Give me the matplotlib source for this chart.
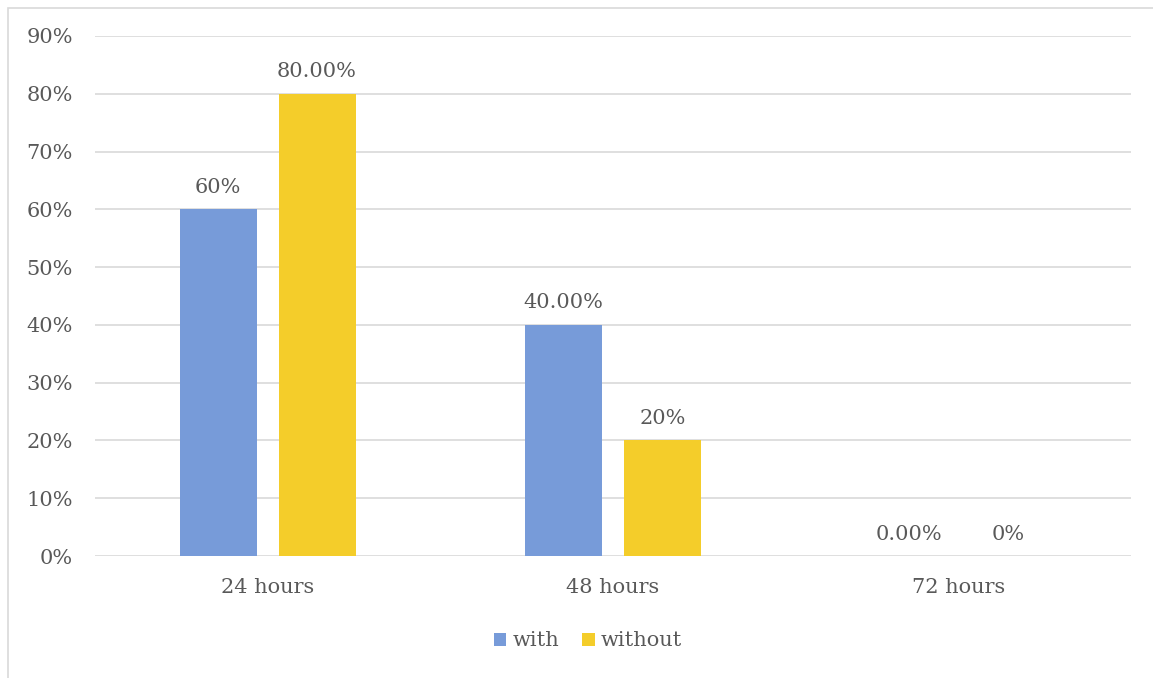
import matplotlib.pyplot as plt
import numpy as np
from matplotlib.patches import Rectangle

categories = ['24 hours', '48 hours', '72 hours']
with_vals = [0.60, 0.40, 0.0]
without_vals = [0.80, 0.20, 0.0]
with_labels = ['60%', '40.00%', '0.00%']
without_labels = ['80.00%', '20%', '0%']
yticks = np.arange(0, 0.91, 0.1)

plt.rcParams['font.family'] = ['DejaVu Serif']
txt = '#595959'
fs = 15

fig = plt.figure(figsize=(11.53, 6.78), dpi=100)
fig.patches.append(Rectangle((8/1153, -0.01), 1.02, (678-8)/678 + 0.01,
                             transform=fig.transFigure, fill=False,
                             edgecolor='#d9d9d9', linewidth=1.2))
ax = fig.add_axes([95/1153, (678-556)/678, (1131-95)/1153, (556-36)/678])

x = np.arange(len(categories))
w = 0.223
off = 0.143
b1 = ax.bar(x - off, with_vals, w, color='#779BD9', label='with', zorder=3)
b2 = ax.bar(x + off, without_vals, w, color='#F4CD2A', label='without', zorder=3)

for bars, labels in ((b1, with_labels), (b2, without_labels)):
    for r, lab in zip(bars, labels):
        ax.annotate(lab, (r.get_x() + r.get_width()/2, r.get_height()),
                    xytext=(0, 9), textcoords='offset points', ha='center',
                    va='bottom', fontsize=fs, color=txt)

ax.set_xlim(-0.5, 2.5)
ax.set_ylim(0, 0.9)
ax.set_yticks(yticks)
ax.set_yticklabels(['%d%%' % round(v*100) for v in yticks])
ax.set_xticks(x)
ax.set_xticklabels(categories)
ax.tick_params(axis='both', length=0, labelsize=fs, colors=txt)
ax.tick_params(axis='y', pad=16)
ax.tick_params(axis='x', pad=16)
ax.grid(axis='y', color='#d9d9d9', linewidth=1.2, zorder=0)
for s in ax.spines.values():
    s.set_visible(False)

fig.legend(loc='center', bbox_to_anchor=(588/1153, 1 - 641/678), ncol=2,
           frameon=False, fontsize=fs, labelcolor=txt, handlelength=0.6,
           handleheight=0.6, handletextpad=0.3, columnspacing=1.1)

fig.savefig('out.png', dpi=100)
